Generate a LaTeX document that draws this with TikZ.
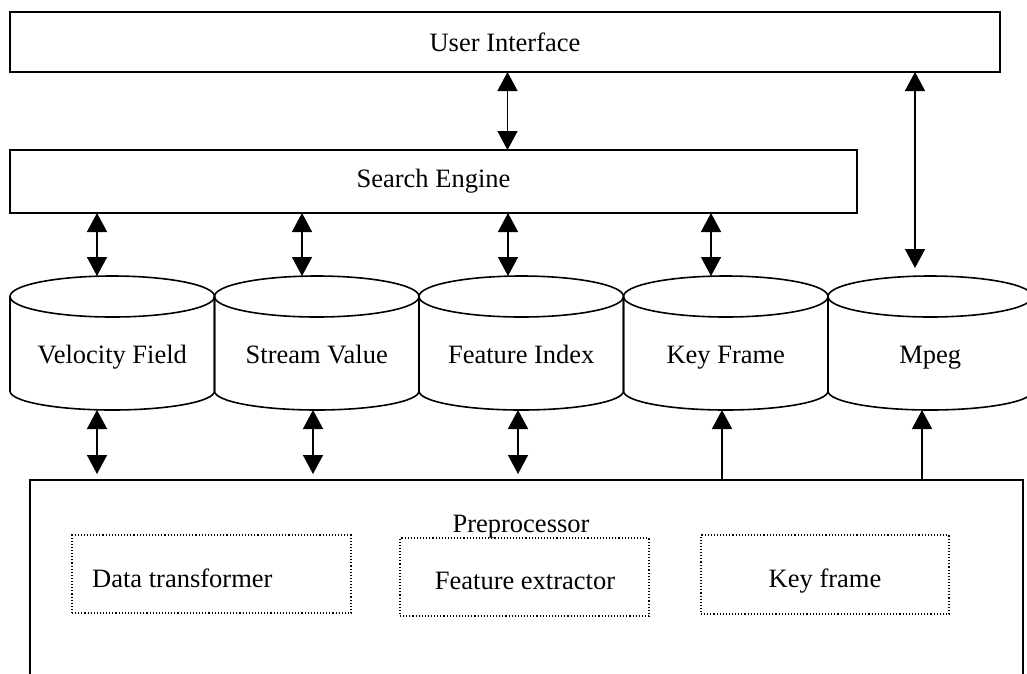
\documentclass[tikz,border=0pt]{standalone}
\usepackage{fontspec}
\setmainfont{Liberation Serif}
\usetikzlibrary{arrows.meta,calc}

\tikzset{
  lbl/.style={font=\fontsize{26.5pt}{30pt}\selectfont, inner sep=0pt},
  panel/.style={draw, line width=1.6pt, inner sep=0pt, outer sep=0pt,
                font=\fontsize{26.5pt}{30pt}\selectfont},
  subbox/.style={draw, line width=1.1pt, dash pattern=on 1.1pt off 2pt,
                 inner sep=0pt, outer sep=0pt},
  cylbody/.style={minimum width=204.5pt, minimum height=134pt, inner sep=0pt, outer sep=0pt},
  outline/.style={line width=1.6pt},
  link/.style={line width=1.5pt, -{Triangle[length=19pt,width=20pt]}},
  both/.style={line width=1.5pt, {Triangle[length=19pt,width=20pt]}-{Triangle[length=19pt,width=20pt]}},
}

% database cylinder: name, centre x, label
\newcommand\dbstore[3]{%
  \node[cylbody] (#1) at (#2,-343) {};
  \draw[outline] ([yshift=-20.5pt]#1.north) ellipse [x radius=102.25pt, y radius=20.5pt];
  \draw[outline] ([yshift=-20.5pt]#1.north west) -- ([yshift=19pt]#1.south west)
     arc[start angle=180, end angle=360, x radius=102.25pt, y radius=19pt]
     -- ([yshift=-20.5pt]#1.north east);
  \node[lbl, anchor=base] (#1-text) at ([yshift=-20pt]#1.center) {#3};
}

\begin{document}
\begin{tikzpicture}[x=1pt,y=1pt]
\useasboundingbox (0,0) rectangle (1027,-673);
\clip (0,0) rectangle (1027,-673);

% layers
\node[panel, minimum width=990pt, minimum height=60pt] (ui) at (505,-42) {User Interface};
\node[panel, minimum width=847pt, minimum height=63pt] (se) at (433.5,-181.5) {Search Engine};

% stores
\dbstore{vf}{112.25}{Velocity Field}
\dbstore{sv}{316.75}{Stream Value}
\dbstore{fi}{521.25}{Feature Index}
\dbstore{kf}{725.75}{Key Frame}
\dbstore{mp}{930.25}{Mpeg}

% preprocessor and its parts
\node[panel, line width=2pt, minimum width=993pt, minimum height=240pt] (pre) at (526.5,-600) {};
\node[lbl, anchor=base] (pre-text) at (521,-532) {Preprocessor};

\node[subbox, minimum width=279pt, minimum height=78pt] (dt) at (211.5,-574) {};
\node[lbl, anchor=base west] (dt-text) at (92,-587) {Data transformer};
\node[subbox, minimum width=249pt, minimum height=78pt] (fe) at (524.5,-577) {};
\node[lbl, anchor=base] (fe-text) at (525,-589) {Feature extractor};
\node[subbox, minimum width=248pt, minimum height=79pt] (kx) at (825,-574.5) {};
\node[lbl, anchor=base] (kx-text) at (825,-587) {Key frame};

% connector columns
\coordinate (c0) at (507.5,0);
\coordinate (t1) at (97,0);
\coordinate (t2) at (302,0);
\coordinate (t3) at (508,0);
\coordinate (t4) at (711,0);
\coordinate (t5) at (915,0);
\coordinate (b1) at (97,0);
\coordinate (b2) at (313,0);
\coordinate (b3) at (518,0);
\coordinate (b4) at (722,0);
\coordinate (b5) at (922,0);

% connectors
\draw[both] (ui.south -| c0) -- (se.north -| c0);
\draw[both] (se.south -| t1) -- (vf.north -| t1);
\draw[both] (se.south -| t2) -- (sv.north -| t2);
\draw[both] (se.south -| t3) -- (fi.north -| t3);
\draw[both] (se.south -| t4) -- (kf.north -| t4);
\draw[both] (ui.south -| t5) -- ($(mp.north -| t5)+(0,8)$);

\draw[both] (vf.south -| b1) -- ($(pre.north -| b1)+(0,6)$);
\draw[both] (sv.south -| b2) -- ($(pre.north -| b2)+(0,6)$);
\draw[both] (fi.south -| b3) -- ($(pre.north -| b3)+(0,6)$);
\draw[link] (pre.north -| b4) -- (kf.south -| b4);
\draw[link] (pre.north -| b5) -- (mp.south -| b5);
\end{tikzpicture}
\end{document}
